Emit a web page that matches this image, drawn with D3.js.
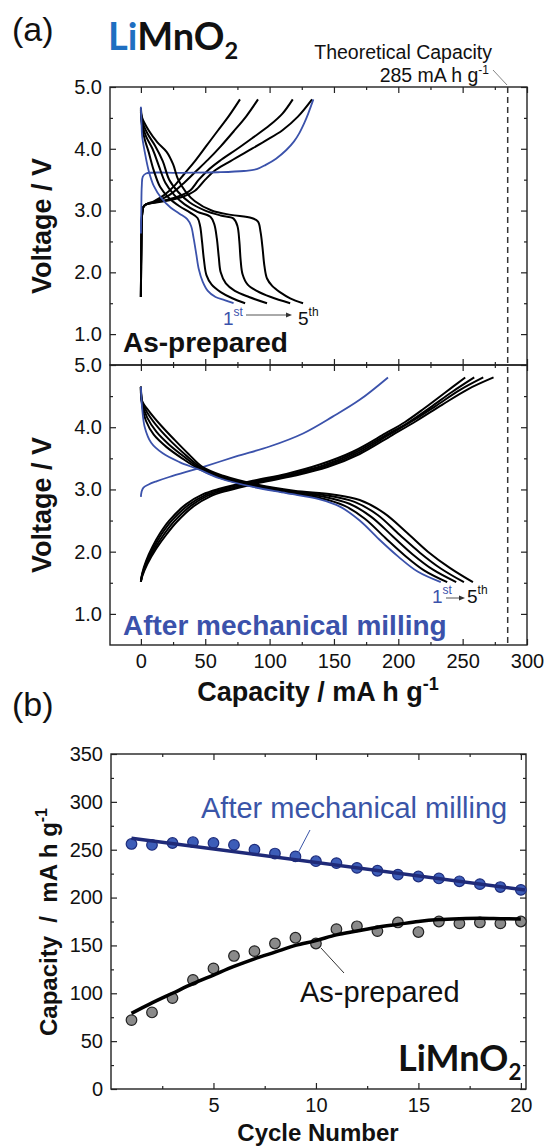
<!DOCTYPE html>
<html lang="en">
  <head>
    <meta charset="UTF-8" />
    <title>LiMnO2</title>
    <script src="https://d3js.org/d3.v7.min.js"></script>
    <style>
      body { margin: 0; background: #fff; }
      svg text { font-family: 'Liberation Sans', Arial, sans-serif; fill: #111; }
      .axis text { font-size: 20px; fill: #111; font-family: 'Liberation Sans', Arial, sans-serif; }
      .axis line { stroke: #222; stroke-width: 1.2; }
    </style>
  </head>
  <body>
    <svg id="chart" width="544" height="1146"></svg>
    <script>
      // ---- panel (a): tick values
      const capTicks = [0, 50, 100, 150, 200, 250, 300]
      const capMinor = [25, 75, 125, 175, 225, 275]
      const voltTicks = [1, 2, 3, 4, 5]
      const voltMinor = [1.5, 2.5, 3.5, 4.5]
      const theoreticalCap = 285

      // as-prepared, [capacity, voltage], 1st (blue) .. 5th
      const asPrepCharge = [
        [[0,2.63],[0.3,3.0],[0.7,3.4],[1.5,3.55],[4,3.6],[30,3.61],[60,3.62],[80,3.64],[90,3.67],[97,3.74],[105,3.84],[113,3.98],[119,4.12],[123,4.25],[127,4.42],[130,4.57],[134,4.8]],
        [[0,1.6],[0.4,2.5],[1,2.95],[2,3.06],[4,3.1],[10,3.15],[18,3.25],[26,3.4],[34,3.6],[42,3.8],[51,4.05],[60,4.3],[68,4.52],[77,4.8]],
        [[0,1.6],[0.4,2.5],[1,2.95],[2,3.06],[4,3.1],[12,3.15],[22,3.25],[32,3.42],[42,3.62],[52,3.82],[62,4.04],[72,4.28],[82,4.53],[91,4.8]],
        [[0,1.6],[0.4,2.5],[1,2.95],[2,3.06],[4,3.1],[15,3.15],[28,3.22],[38,3.32],[45,3.5],[52,3.65],[61,3.8],[75,4.0],[87,4.18],[100,4.38],[110,4.57],[118,4.8]],
        [[0,1.6],[0.4,2.5],[1,2.95],[2,3.06],[4,3.1],[18,3.15],[32,3.22],[42,3.32],[50,3.5],[57,3.64],[68,3.78],[82,3.95],[96,4.12],[110,4.3],[122,4.52],[133,4.8]]
      ]
      const asPrepDischarge = [
        [[0,4.68],[0.5,4.4],[1,4.2],[3,3.95],[6,3.65],[10,3.4],[16,3.2],[23,3.05],[30,2.95],[36,2.86],[39,2.75],[41,2.55],[43,2.3],[45,2.05],[48,1.85],[52,1.7],[58,1.6],[65,1.55],[72,1.5]],
        [[0,4.6],[1,4.35],[3,4.15],[6,3.95],[10,3.65],[15,3.38],[22,3.2],[30,3.07],[38,2.97],[44,2.88],[46,2.75],[47.5,2.5],[49,2.2],[51,1.95],[55,1.8],[62,1.68],[71,1.58],[81,1.5]],
        [[0,4.62],[1,4.4],[4,4.2],[9,4.0],[14,3.72],[19,3.45],[26,3.25],[34,3.1],[44,2.98],[54,2.9],[57,2.78],[59,2.55],[60.5,2.25],[62,2.0],[66,1.82],[73,1.7],[84,1.6],[98,1.5]],
        [[0,4.64],[1,4.45],[5,4.25],[11,4.05],[17,3.8],[22,3.5],[29,3.3],[38,3.13],[50,3.0],[62,2.92],[72,2.87],[75,2.75],[76.5,2.5],[77.5,2.2],[79,1.97],[83,1.8],[90,1.7],[101,1.6],[116,1.5]],
        [[0,4.66],[1,4.5],[6,4.3],[13,4.1],[20,3.95],[25,3.75],[29,3.5],[35,3.3],[42,3.15],[55,3.0],[70,2.93],[86,2.88],[91,2.82],[93,2.65],[94.5,2.4],[96,2.1],[98,1.9],[102,1.78],[108,1.68],[116,1.58],[126,1.5]]
      ]

      // after mechanical milling
      const milledCharge = [
        [[0,2.88],[0.5,2.96],[2,3.03],[6,3.08],[12,3.13],[22,3.2],[48,3.36],[74,3.53],[100,3.69],[126,3.9],[149,4.17],[170,4.44],[192,4.8]],
        [[0,1.52],[1,1.65],[4,1.85],[9,2.08],[15,2.3],[22,2.5],[35,2.76],[48,2.92],[61,3.01],[87,3.14],[113,3.25],[139,3.4],[165,3.61],[190,3.9],[205,4.08],[220,4.3],[236,4.55],[252,4.8]],
        [[0,1.52],[1,1.63],[4,1.82],[10,2.07],[16,2.28],[24,2.5],[37,2.75],[50,2.91],[63,3.0],[89,3.13],[115,3.24],[141,3.38],[166,3.59],[191,3.88],[208,4.08],[225,4.32],[242,4.57],[259,4.8]],
        [[0,1.52],[1,1.62],[5,1.83],[11,2.06],[18,2.28],[26,2.49],[39,2.74],[52,2.9],[65,2.99],[91,3.12],[117,3.23],[143,3.37],[168,3.58],[193,3.88],[211,4.1],[229,4.34],[248,4.6],[266,4.8]],
        [[0,1.52],[1,1.6],[5,1.8],[12,2.05],[20,2.28],[28,2.48],[41,2.73],[54,2.89],[67,2.98],[93,3.11],[119,3.22],[145,3.36],[170,3.57],[195,3.87],[214,4.1],[234,4.36],[254,4.61],[274,4.8]]
      ]
      const milledDischarge = [
        [[0,4.65],[1,4.3],[3,4.0],[8,3.75],[17,3.58],[30,3.44],[45,3.32],[61,3.18],[87,3.04],[113,2.94],[139,2.84],[155,2.72],[170,2.5],[185,2.2],[200,1.92],[215,1.68],[233,1.51]],
        [[0,4.65],[1,4.35],[4,4.1],[10,3.88],[20,3.68],[32,3.5],[45,3.33],[61,3.19],[87,3.05],[113,2.95],[140,2.86],[158,2.74],[174,2.53],[190,2.22],[205,1.94],[220,1.7],[238,1.51]],
        [[0,4.65],[1,4.38],[5,4.15],[12,3.93],[22,3.72],[34,3.52],[46,3.34],[62,3.2],[88,3.06],[115,2.96],[143,2.88],[162,2.77],[179,2.56],[196,2.24],[211,1.96],[227,1.71],[245,1.51]],
        [[0,4.65],[1,4.4],[6,4.2],[14,3.98],[24,3.76],[35,3.55],[47,3.35],[63,3.21],[89,3.07],[117,2.97],[146,2.9],[166,2.8],[184,2.59],[201,2.27],[217,1.98],[233,1.73],[251,1.51]],
        [[0,4.65],[1,4.42],[7,4.24],[16,4.02],[26,3.8],[37,3.57],[48,3.36],[64,3.22],[90,3.08],[119,2.98],[149,2.92],[170,2.83],[189,2.62],[207,2.3],[223,2.0],[240,1.74],[258,1.51]]
      ]

      // ---- panel (b)
      const cycleTicks = [5, 10, 15, 20]
      const cycleMinor = [2.5, 7.5, 12.5, 17.5]
      const capBTicks = [0, 50, 100, 150, 200, 250, 300, 350]
      const capBMinor = [25, 75, 125, 175, 225, 275, 325]
      const cycles = [1,2,3,4,5,6,7,8,9,10,11,12,13,14,15,16,17,18,19,20]
      const asPrepCapacity = [72,80,95,114,126,139,144,152,158,152,167,170,165,174,164,175,173,174,173,175]
      const milledCapacity = [256,255,257,258,257,255,250,246,243,238,236,231,228,224,222,220,217,214,211,208]
      const asPrepFit = [79,90,100,110,119,128,136,143,150,155,161,165,169,172,175,177,178,178.5,178,177.5]
      const milledFitCycles = [1, 20.2]
      const milledFit = [262, 208]

      const blue = '#3b52ab'
      const svg = d3.select('#chart')

      const xA = d3.scaleLinear().domain([-24, 300]).range([110, 527])
      const yTop = d3.scaleLinear().domain([0.5, 5]).range([365, 87])
      const yBot = d3.scaleLinear().domain([0.5, 5]).range([645, 365])
      const xB = d3.scaleLinear().domain([0, 20.25]).range([111, 526])
      const yB = d3.scaleLinear().domain([0, 350]).range([1089, 754])

      function axes(x, y, xMaj, xMin, yMaj, yMin, xFmt, yFmt) {
        const g = svg.append('g').attr('class', 'axis')
        const b = y.range()[0], t = y.range()[1], l = x.range()[0], r = x.range()[1]
        g.append('g').attr('transform', `translate(0,${b})`)
          .call(d3.axisBottom(x).tickValues(xMaj).tickSize(-6).tickPadding(9).tickFormat(xFmt))
        g.append('g').attr('transform', `translate(0,${b})`)
          .call(d3.axisBottom(x).tickValues(xMin).tickSize(-3).tickFormat(''))
        g.append('g').attr('transform', `translate(0,${t})`)
          .call(d3.axisTop(x).tickValues(xMaj).tickSize(-6).tickFormat(''))
        g.append('g').attr('transform', `translate(0,${t})`)
          .call(d3.axisTop(x).tickValues(xMin).tickSize(-3).tickFormat(''))
        g.append('g').attr('transform', `translate(${l},0)`)
          .call(d3.axisLeft(y).tickValues(yMaj).tickSize(-6).tickPadding(8).tickFormat(yFmt))
        g.append('g').attr('transform', `translate(${l},0)`)
          .call(d3.axisLeft(y).tickValues(yMin).tickSize(-3).tickFormat(''))
        g.append('g').attr('transform', `translate(${r},0)`)
          .call(d3.axisRight(y).tickValues(yMaj).tickSize(-6).tickFormat(''))
        g.append('g').attr('transform', `translate(${r},0)`)
          .call(d3.axisRight(y).tickValues(yMin).tickSize(-3).tickFormat(''))
        g.selectAll('.domain').remove()
        svg.append('rect')
          .attr('x', l).attr('y', t).attr('width', r - l).attr('height', b - t)
          .attr('fill', 'none').attr('stroke', '#222').attr('stroke-width', 1.4)
      }

      const fmtV = d3.format('.1f')
      axes(xA, yTop, capTicks, capMinor, voltTicks, voltMinor, '', fmtV)
      axes(xA, yBot, capTicks, capMinor, voltTicks, voltMinor, d3.format('d'), fmtV)
      axes(xB, yB, cycleTicks, cycleMinor, capBTicks, capBMinor, d3.format('d'), d3.format('d'))

      // charge / discharge curves
      function curves(y, sets) {
        const line = d3.line().x(d => xA(d[0])).y(d => y(d[1])).curve(d3.curveCatmullRom.alpha(0.5))
        sets.forEach(set => {
          // black cycles first, 1st cycle (blue) on top
          set.slice(1).forEach(c => svg.append('path').attr('d', line(c))
            .attr('fill', 'none').attr('stroke', '#000').attr('stroke-width', 2))
          svg.append('path').attr('d', line(set[0]))
            .attr('fill', 'none').attr('stroke', blue).attr('stroke-width', 1.8)
        })
      }
      curves(yTop, [asPrepCharge, asPrepDischarge])
      curves(yBot, [milledCharge, milledDischarge])

      // theoretical capacity
      svg.append('line')
        .attr('x1', xA(theoreticalCap)).attr('x2', xA(theoreticalCap))
        .attr('y1', yTop(5)).attr('y2', yBot(0.5))
        .attr('stroke', '#333').attr('stroke-width', 1.5).attr('stroke-dasharray', '6,4')
      svg.append('line').attr('x1', 493).attr('y1', 70).attr('x2', 507).attr('y2', 85)
        .attr('stroke', '#666').attr('stroke-width', 0.8)
      svg.append('text').attr('x', 492).attr('y', 59).attr('text-anchor', 'end')
        .style('font-size', '19.5px').text('Theoretical Capacity')
      const tc = svg.append('text').attr('x', 489).attr('y', 82).attr('text-anchor', 'end').style('font-size', '19.5px')
      tc.append('tspan').text('285 mA h g')
      tc.append('tspan').attr('dy', -8).style('font-size', '12px').text('-1')

      // titles
      svg.append('text').attr('x', 12).attr('y', 41).style('font-size', '34px').text('(a)')
      svg.append('text').attr('x', 12).attr('y', 716).style('font-size', '34px').text('(b)')
      function formula(x, y, size, liColor) {
        const t = svg.append('text').attr('x', x).attr('y', y)
          .style('font-family', 'Lato, "Open Sans", sans-serif').style('font-weight', 700).style('font-size', size + 'px')
        t.append('tspan').style('fill', liColor).text('Li')
        t.append('tspan').style('fill', '#111').text('MnO')
        t.append('tspan').style('fill', '#111').attr('dy', size * 0.24).style('font-size', (size * 0.62) + 'px').text('2')
      }
      formula(108, 50, 38, '#1f6fc1')
      formula(398, 1071, 36, '#111')

      // panel labels
      svg.append('text').attr('x', 123).attr('y', 352).style('font-size', '28px').style('font-weight', 700).text('As-prepared')
      svg.append('text').attr('x', 123).attr('y', 635).style('font-size', '28px').style('font-weight', 700)
        .style('fill', blue).text('After mechanical milling')

      // 1st -> 5th
      function cycleNote(x1, base, ax1, ax2, ay, x5) {
        const a = svg.append('text').attr('x', x1).attr('y', base).style('font-size', '19px').style('fill', blue)
        a.append('tspan').text('1')
        a.append('tspan').attr('dy', -9).style('font-size', '12px').style('fill', blue).text('st')
        svg.append('line').attr('x1', ax1).attr('x2', ax2 - 5).attr('y1', ay).attr('y2', ay)
          .attr('stroke', '#555').attr('stroke-width', 1)
        svg.append('path').attr('d', `M${ax2},${ay}L${ax2 - 6},${ay - 2.5}L${ax2 - 6},${ay + 2.5}Z`).attr('fill', '#333')
        const b = svg.append('text').attr('x', x5).attr('y', base).style('font-size', '19px')
        b.append('tspan').text('5')
        b.append('tspan').attr('dy', -9).style('font-size', '12px').text('th')
      }
      cycleNote(223, 325, 246, 292, 315, 298)
      cycleNote(432, 603, 446, 465, 598, 467)

      // axis titles panel (a)
      ;[226, 505].forEach(cy => {
        svg.append('text').attr('transform', `translate(51,${cy}) rotate(-90)`).attr('text-anchor', 'middle')
          .style('font-size', '27px').style('font-weight', 700).text('Voltage / V')
      })
      const xt = svg.append('text').attr('x', 318).attr('y', 701).attr('text-anchor', 'middle')
        .style('font-size', '27px').style('font-weight', 700)
      xt.append('tspan').text('Capacity / mA h g')
      xt.append('tspan').attr('dy', -11).style('font-size', '18px').text('-1')

      // ---- panel (b) marks
      svg.selectAll('.cpA').data(cycles).join('circle')
        .attr('cx', d => xB(d)).attr('cy', (d, i) => yB(asPrepCapacity[i])).attr('r', 5.3)
        .attr('fill', '#8a8a8a').attr('stroke', '#222').attr('stroke-width', 1.2)
      svg.selectAll('.cpM').data(cycles).join('circle')
        .attr('cx', d => xB(d)).attr('cy', (d, i) => yB(milledCapacity[i])).attr('r', 5.3)
        .attr('fill', '#3d5db8').attr('stroke', '#1d2c7c').attr('stroke-width', 1.2)
      svg.append('path')
        .attr('d', d3.line().x(d => xB(d)).y((d, i) => yB(asPrepFit[i])).curve(d3.curveMonotoneX)(cycles))
        .attr('fill', 'none').attr('stroke', '#000').attr('stroke-width', 3.5)
      svg.append('path')
        .attr('d', d3.line().x(d => xB(d)).y((d, i) => yB(milledFit[i]))(milledFitCycles))
        .attr('fill', 'none').attr('stroke', '#1f2a78').attr('stroke-width', 3.5)

      svg.append('text').attr('x', 201).attr('y', 818).style('font-size', '29px').style('fill', '#3a55a8')
        .text('After mechanical milling')
      svg.append('line').attr('x1', 310).attr('y1', 830).attr('x2', 298).attr('y2', 853)
        .attr('stroke', '#3a55a8').attr('stroke-width', 1)
      svg.append('text').attr('x', 300).attr('y', 1002).style('font-size', '29px').text('As-prepared')
      svg.append('line').attr('x1', 344).attr('y1', 973).attr('x2', 321).attr('y2', 948)
        .attr('stroke', '#333').attr('stroke-width', 1)

      const yt = svg.append('text').attr('transform', 'translate(57,922) rotate(-90)').attr('text-anchor', 'middle')
        .style('font-size', '24px').style('font-weight', 700).style('white-space', 'pre')
      yt.append('tspan').text('Capacity  /  mA h g')
      yt.append('tspan').attr('dy', -10).style('font-size', '16px').text('-1')
      svg.append('text').attr('x', 318).attr('y', 1141).attr('text-anchor', 'middle')
        .style('font-size', '24px').style('font-weight', 700).text('Cycle Number')
    </script>
  </body>
</html>
